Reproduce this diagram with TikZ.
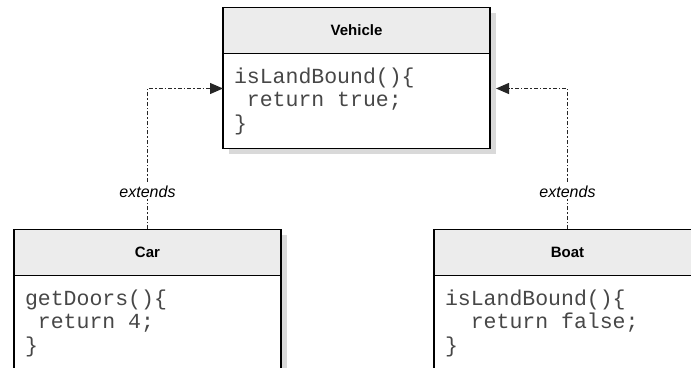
\documentclass[tikz,border=0pt]{standalone}
\usepackage{fontspec}
\setmainfont{Liberation Sans}
\setmonofont{Liberation Mono}
\usepackage{tikz}
\usetikzlibrary{positioning}
\usetikzlibrary{calc,arrows.meta}
\usetikzlibrary{backgrounds}

\begin{document}
\begin{tikzpicture}[x=1pt,y=1pt,
    classhead/.style={draw, line width=1.5pt, fill=gray!15, minimum width=267pt, minimum height=46pt,
        inner sep=0pt, outer sep=0pt, font=\fontsize{15}{17}\selectfont\bfseries},
    classbody/.style={draw, line width=1.5pt, fill=white, minimum width=267pt, minimum height=95pt,
        text width=245pt, align=left, inner sep=0pt, outer sep=0pt, text=black!72,
        font=\ttfamily\fontsize{21.5}{23.5}\selectfont},
    extendsline/.style={line width=1.2pt, black!85, dash pattern=on 4pt off 2pt on 1.5pt off 2pt,
        -{Triangle[length=13pt,width=11pt]}},
    extendslabel/.style={fill=white, inner sep=2pt, text=black, font=\itshape\fontsize{16}{18}\selectfont}]

    \path[use as bounding box, clip] (0,0) rectangle (691,367);

    % Classes
    \node[classhead] (vehicle) at (356.5,336.5) {Vehicle};
    \node[classbody, below=0pt of vehicle] (vehicle-body)
        {isLandBound()\{\\\phantom{x}return\phantom{x}true;\\\}};

    \node[classhead] (car) at (147.5,114.5) {Car};
    \node[classbody, below=0pt of car] (car-body)
        {getDoors()\{\\\phantom{x}return\phantom{x}4;\\\}};

    \node[classhead] (boat) at (567.5,114.5) {Boat};
    \node[classbody, below=0pt of boat] (boat-body)
        {isLandBound()\{\\\phantom{xx}return\phantom{x}false;\\\}};

    % Shadows
    \begin{pgfonlayer}{background}
        \foreach \c in {vehicle,car,boat}
            \fill[gray!30] ([shift={(6,-6)}]\c.north west) rectangle ([shift={(6,-6)}]\c-body.south east);
    \end{pgfonlayer}

    % Inheritance
    \draw[extendsline] (car.north) |- ([yshift=-35pt]vehicle-body.north west)
        node[extendslabel, pos=0.135] {extends};
    \draw[extendsline] (boat.north) |- ([xshift=6pt,yshift=-35pt]vehicle-body.north east)
        node[extendslabel, pos=0.135] {extends};
\end{tikzpicture}
\end{document}
